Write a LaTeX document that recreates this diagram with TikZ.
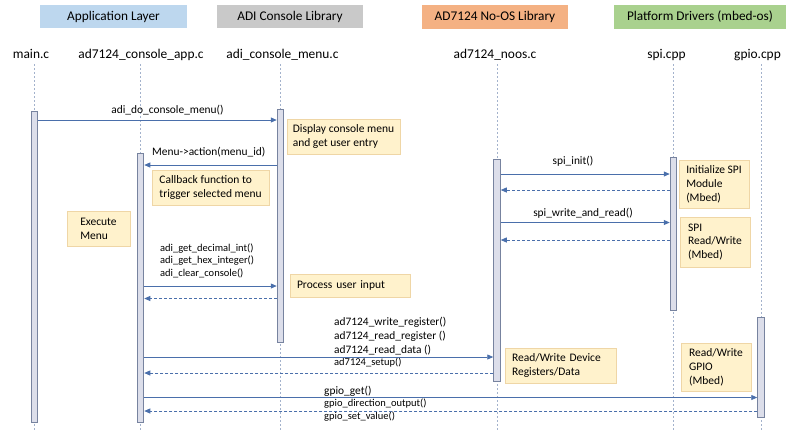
\documentclass[tikz,border=0pt]{standalone}
\usepackage{fontspec}
\setmainfont{Carlito}
\usetikzlibrary{arrows.meta,backgrounds}
\definecolor{hdrblue}{HTML}{BDD7EE}
\definecolor{hdrgray}{HTML}{C9C9C9}
\definecolor{hdrorange}{HTML}{F4B183}
\definecolor{hdrgreen}{HTML}{A9D18E}
\definecolor{notefill}{HTML}{FFF2CC}
\definecolor{noteline}{HTML}{EFD6A6}
\definecolor{barfill}{HTML}{DCDEEA}
\definecolor{barline}{HTML}{77839F}
\definecolor{msgblue}{HTML}{4A6FAB}
\definecolor{lifegray}{HTML}{A3B2CC}
\tikzset{
	header/.style={inner sep=0, font=\fontsize{13.3}{16}\selectfont},
	lifename/.style={inner sep=0, anchor=base, font=\fontsize{13.4}{16}\selectfont},
	bar/.style={draw=barline, fill=barfill, line width=1, minimum width=6.5, inner sep=0},
	lifeline/.style={draw=lifegray, line width=0.7, dash pattern=on 2 off 2},
	note/.style={draw=noteline, fill=notefill, line width=0.8, inner sep=0, align=left, font=\fontsize{11.5}{13.8}\selectfont},
	msg/.style={draw=msgblue, line width=0.8, -{Triangle[length=6,width=5]}},
	ret/.style={msg, dash pattern=on 3 off 2},
	lbl/.style={inner sep=0, font=\fontsize{11.4}{14}\selectfont},
	lblsmall/.style={inner sep=0, font=\fontsize{10.5}{12.5}\selectfont}
}

\begin{document}
\begin{tikzpicture}[x=1pt, y=-1pt]
			%%%%% START %%%%%
			\useasboundingbox (0,0) rectangle (800,445);
			
			\node[header, fill=hdrblue, minimum width=147, minimum height=23] (hdrapp) at (113.5,16.5) {Application Layer};
			\node[header, fill=hdrgray, minimum width=146, minimum height=23] (hdrlib) at (290,16.5) {ADI Console Library};
			\node[header, fill=hdrorange, minimum width=146, minimum height=24] (hdrnoos) at (495,17) {AD7124 No-OS Library};
			\node[header, fill=hdrgreen, minimum width=172, minimum height=24] (hdrplat) at (700,17) {Platform Drivers (mbed-os)};
			
			\node[lifename] (main) at (31,58) {main.c};
			\node[lifename] (app) at (141,58) {ad7124\_console\_app.c};
			\node[lifename] (menu) at (282.5,58) {adi\_console\_menu.c};
			\node[lifename] (noos) at (495,58) {ad7124\_noos.c};
			\node[lifename] (spi) at (666.5,58) {spi.cpp};
			\node[lifename] (gpio) at (757.5,58) {gpio.cpp};
			
			\node[bar, minimum height=311] (mainbar) at (34.5,266.5) {};
			\node[bar, minimum height=269] (appbar) at (140.5,287.5) {};
			\node[bar, minimum height=233] (menubar) at (280.5,225.5) {};
			\node[bar, minimum height=222] (noosbar) at (497,270) {};
			\node[bar, minimum height=153] (spibar) at (673.5,233.5) {};
			\node[bar, minimum height=100] (gpiobar) at (761,367) {};
			
			\begin{scope}[on background layer]
				\foreach \b in {mainbar,appbar,menubar,noosbar,spibar,gpiobar}
					\draw[lifeline] (\b.center |- 0,64) -- (\b.center |- 0,430);
			\end{scope}
			
			\node[note, minimum width=113, minimum height=35] (notedisplay) at (343.5,136.5) {Display console menu\\and get user entry};
			\node[note, minimum width=117, minimum height=35] (notecallback) at (210.5,187.5) {Callback function to\\trigger selected menu};
			\node[note, minimum width=63, minimum height=35] (noteexec) at (98.5,228.5) {Execute\\Menu};
			\node[note, inner xsep=7, text width=106, minimum height=23] (noteinput) at (350,285.5) {Process user input};
			\node[note, minimum width=70, minimum height=48] (notespiinit) at (714,184) {Initialize SPI\\Module\\(Mbed)};
			\node[note, minimum width=70, minimum height=50] (notespirw) at (715,242) {SPI\\Read/Write\\(Mbed)};
			\node[note, inner xsep=7, text width=97, minimum height=35] (noteregs) at (560.5,365.5) {Read/Write Device\\Registers/Data};
			\node[note, minimum width=70, minimum height=48] (notegpio) at (716,367) {Read/Write\\GPIO\\(Mbed)};
			
			\draw[msg] (mainbar.east |- 0,120) -- (menubar.west |- 0,120);
			\node[lbl] (lbldo) at (167.5,110.5) {adi\_do\_console\_menu()};
			
			\draw[msg] (menubar.west |- 0,165) -- (appbar.east |- 0,165);
			\node[lbl, anchor=west] (lblaction) at (152,152) {Menu->action(menu\_id)};
			
			\node[lblsmall, anchor=west, align=left] (lblget) at (160,260.5) {adi\_get\_decimal\_int()\\adi\_get\_hex\_integer()\\adi\_clear\_console()};
			\draw[msg] (appbar.east |- 0,286) -- (menubar.west |- 0,286);
			\draw[ret] (menubar.west |- 0,298.5) -- (appbar.east |- 0,298.5);
			
			\draw[msg] (noosbar.east |- 0,174) -- (spibar.west |- 0,174);
			\node[lbl] (lblspiinit) at (573,161.5) {spi\_init()};
			\draw[ret] (spibar.west |- 0,190) -- (noosbar.east |- 0,190);
			
			\draw[msg] (noosbar.east |- 0,222.5) -- (spibar.west |- 0,222.5);
			\node[lbl] (lblspirw) at (583,213) {spi\_write\_and\_read()};
			\draw[ret] (spibar.west |- 0,240) -- (noosbar.east |- 0,240);
			
			\node[lbl, anchor=west, align=left] (lblregs) at (334,336) {ad7124\_write\_register()\\ad7124\_read\_register ()\\ad7124\_read\_data ()};
			\node[lblsmall, anchor=west] (lblsetup) at (334,362.5) {ad7124\_setup()};
			\draw[msg] (appbar.east |- 0,357) -- (noosbar.west |- 0,357);
			\draw[ret] (noosbar.west |- 0,373) -- (appbar.east |- 0,373);
			
			\node[lbl, anchor=west] (lblgpioget) at (324,391) {gpio\_get()};
			\node[lblsmall, anchor=west] (lblgpiodir) at (324,404) {gpio\_direction\_output()};
			\node[lblsmall, anchor=west] (lblgpioset) at (324,416.5) {gpio\_set\_value()};
			\draw[msg] (appbar.east |- 0,397.5) -- (gpiobar.west |- 0,397.5);
			\draw[ret] (gpiobar.west |- 0,411) -- (appbar.east |- 0,411);
			
			%%%%% END %%%%%
\end{tikzpicture}
\end{document}
